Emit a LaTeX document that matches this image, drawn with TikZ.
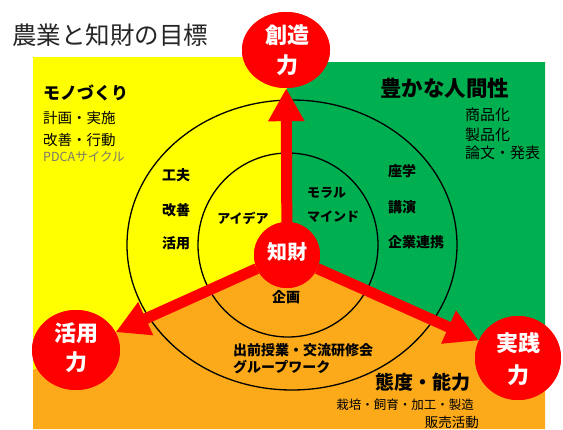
\documentclass[tikz,border=0pt]{standalone}
\usepackage{fontspec}
\setmainfont{Noto Sans CJK JP}
\usetikzlibrary{arrows.meta,shapes.geometric}
\definecolor{cyellow}{RGB}{255,255,0}
\definecolor{cgreen}{RGB}{0,176,80}
\definecolor{corange}{RGB}{252,170,25}
\definecolor{cred}{RGB}{255,0,0}
\definecolor{cgray}{RGB}{120,120,110}
\newcommand{\jfs}[1]{\fontsize{#1}{#1}\selectfont}
\begin{document}
\begin{tikzpicture}[x=1pt,y=-1pt,
  bigc/.style={ellipse, fill=cred, inner sep=0pt},
  arr/.style={draw=cred, line width=11pt, -{Triangle[length=33pt,width=34pt]}},
  ring/.style={draw=black, line width=1.3pt},
  ctext/.style={text=white, font=\bfseries\jfs{22pt}, inner sep=0pt},
  lbl/.style={inner sep=0pt, anchor=west},
  lblb/.style={inner sep=0pt, anchor=west, font=\bfseries\jfs{14pt}},
  ]
\useasboundingbox (0,0) rectangle (563,429);
\fill[white] (0,0) rectangle (563,429);
% backgrounds
\fill[cyellow] (33,57) -- (287,57) -- (287,255) -- (33,370) -- cycle;
\fill[cgreen] (287,62) -- (545,62) -- (545,370) -- (287,255) -- cycle;
\fill[corange] (33,370) -- (287,255) -- (545,370) -- (545,429) -- (33,429) -- cycle;
% rings
\draw[ring] (292,245) ellipse [x radius=165, y radius=145];
\draw[ring] (288,245) ellipse [x radius=90, y radius=92];
% circles (nodes)
\node[bigc, minimum width=88pt, minimum height=76pt] (top) at (286,50) {};
\node[bigc, minimum width=88pt, minimum height=80pt] (lft) at (76,350) {};
\node[bigc, minimum width=86pt, minimum height=84pt] (rgt) at (518,358) {};
\node[circle, fill=cred, inner sep=0pt, minimum size=66pt] (ctr) at (287,255) {};
% arrows
\draw[arr] (ctr) -- (top);
\draw[arr] (ctr) -- (lft);
\draw[arr] (ctr) -- (rgt);
\node[bigc, minimum width=88pt, minimum height=76pt] at (286,50) {};
\node[bigc, minimum width=88pt, minimum height=80pt] at (76,350) {};
\node[bigc, minimum width=86pt, minimum height=84pt] at (518,358) {};
\node[circle, fill=cred, inner sep=0pt, minimum size=66pt] at (287,255) {};
% circle labels
\node[ctext] (ta) at (287,35) {創造};
\node[ctext] (tb) at (287,65) {力};
\node[ctext] (la) at (76,333) {活用};
\node[ctext] (lb) at (76,362) {力};
\node[ctext] (ra) at (518,343) {実践};
\node[ctext] (rb) at (518,375) {力};
\node[ctext, font=\bfseries\jfs{20pt}] (ca) at (287,252) {知財};
% title
\node[lbl, font=\jfs{24.5pt}, text=black!85] (title) at (12,35) {農業と知財の目標};
% yellow region
\node[lbl, font=\bfseries\jfs{17pt}] (y1) at (43,93) {モノづくり};
\node[lbl, font=\jfs{14.5pt}] (y2) at (43,118) {計画・実施};
\node[lbl, font=\jfs{14.5pt}] (y3) at (43,140) {改善・行動};
\node[lbl, font=\jfs{12.5pt}, text=cgray] (y4) at (43,157) {PDCAサイクル};
\node[lblb] (y5) at (162,175) {工夫};
\node[lblb] (y6) at (162,210) {改善};
\node[lblb] (y7) at (162,243) {活用};
\node[inner sep=0pt, font=\bfseries\jfs{13pt}] (y8) at (243,218) {アイデア};
% green region
\node[lbl, font=\bfseries\jfs{21.5pt}] (g1) at (380,88) {豊かな人間性};
\node[lbl, font=\jfs{15pt}] (g2) at (465,115) {商品化};
\node[lbl, font=\jfs{15pt}] (g3) at (465,135) {製品化};
\node[lbl, font=\jfs{15pt}] (g4) at (465,153) {論文・発表};
\node[lbl, font=\bfseries\jfs{13pt}] (g5) at (307,193) {モラル};
\node[lbl, font=\bfseries\jfs{13pt}] (g6) at (307,217) {マインド};
\node[lblb] (g7) at (388,171) {座学};
\node[lblb] (g8) at (388,207) {講演};
\node[lblb] (g9) at (388,242) {企業連携};
% orange region
\node[inner sep=0pt, font=\bfseries\jfs{14pt}] (o1) at (286,297) {企画};
\node[lblb] (o2) at (233,350) {出前授業・交流研修会};
\node[lblb] (o3) at (233,367) {グループワーク};
\node[lbl, font=\bfseries\jfs{19pt}] (o4) at (375,382) {態度・能力};
\node[inner sep=0pt, anchor=east, font=\jfs{12.5pt}] (o5) at (474,405) {栽培・飼育・加工・製造};
\node[inner sep=0pt, anchor=east, font=\jfs{13.5pt}] (o6) at (479,422) {販売活動};
\end{tikzpicture}
\end{document}
